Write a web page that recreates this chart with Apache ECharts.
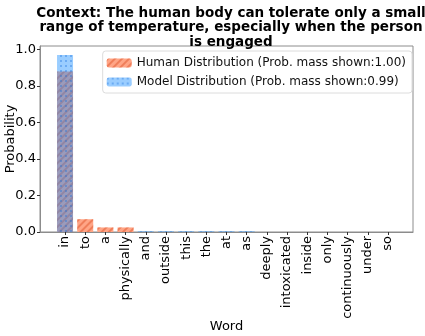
<!DOCTYPE html>
<html>
<head>
<meta charset="utf-8">
<script src="https://cdn.jsdelivr.net/npm/echarts@6/dist/echarts.min.js"></script>
<style>
 html, body { margin: 0; padding: 0; background: #fff; }
 #chart { width: 425px; height: 336px; }
</style>
</head>
<body>
<div id="chart"></div>
<script>
const words = ['in', 'to', 'a', 'physically', 'and', 'outside', 'this', 'the', 'at', 'as',
 'deeply', 'intoxicated', 'inside', 'only', 'continuously', 'under', 'so']
const humanProb = [0.88, 0.07, 0.025, 0.025, 0, 0, 0, 0, 0, 0, 0, 0, 0, 0, 0, 0, 0]
const modelProb = [0.97, 0, 0, 0, 0.004, 0.004, 0.004, 0.004, 0.004, 0.004, 0, 0, 0, 0, 0, 0, 0]
const yTicks = [0, 0.2, 0.4, 0.6, 0.8, 1.0]

const font = 'DejaVu Sans'
const axisColor = '#8c8c8c'
const idx = words.map((_, i) => i)

const chart = echarts.init(document.getElementById('chart'), null, { renderer: 'canvas' })

chart.setOption({
 animation: false,
 backgroundColor: '#fff',
 title: {
 text: 'Context: The human body can tolerate only a small\nrange of temperature, especially when the person\nis engaged',
 left: 226,
 top: 1,
 textAlign: 'center',
 textStyle: { fontFamily: font, fontSize: 13.5, fontWeight: 'bold', color: '#000', lineHeight: 14.5 },
 },
 legend: {
 data: ['Human Distribution (Prob. mass shown:1.00)', 'Model Distribution (Prob. mass shown:0.99)'],
 orient: 'vertical',
 right: 13,
 top: 51,
 itemWidth: 25,
 itemHeight: 9,
 itemGap: 7,
 padding: [6, 6, 5, 4],
 backgroundColor: '#fff',
 borderColor: '#dcdcdc',
 borderWidth: 1,
 borderRadius: 3,
 textStyle: { fontFamily: font, fontSize: 12, color: '#111' },
 },
 grid: {
 left: 40, right: 12, top: 46, bottom: 104,
 outerBoundsMode: 'none',
 containLabel: false,
 show: true, borderColor: axisColor, borderWidth: 1,
 },
 xAxis: {
 type: 'value',
 min: -1.24,
 max: 17.24,
 name: 'Word',
 nameLocation: 'middle',
 nameGap: 88,
 nameMoveOverlap: false,
 nameTextStyle: { fontFamily: font, fontSize: 13, color: '#000' },
 splitLine: { show: false },
 axisLine: { onZero: false, lineStyle: { color: axisColor } },
 axisTick: { customValues: idx, length: 3, lineStyle: { color: '#333' } },
 axisLabel: {
 customValues: idx,
 rotate: 90,
 margin: 4,
 formatter: v => words[Math.round(v)],
 fontFamily: font, fontSize: 13, color: '#000',
 },
 },
 yAxis: {
 type: 'value',
 min: 0,
 max: 1.02,
 name: 'Probability',
 nameLocation: 'middle',
 nameGap: 23,
 nameMoveOverlap: false,
 nameTextStyle: { fontFamily: font, fontSize: 13, color: '#000' },
 splitLine: { show: false },
 axisLine: { show: true, onZero: false, lineStyle: { color: axisColor } },
 axisTick: { show: true, customValues: yTicks, length: 3, lineStyle: { color: '#333' } },
 axisLabel: {
 customValues: yTicks,
 margin: 4,
 formatter: v => v.toFixed(1),
 fontFamily: font, fontSize: 13, color: '#000',
 },
 },
 series: [
 {
 name: 'Human Distribution (Prob. mass shown:1.00)',
 type: 'bar',
 barWidth: 16,
 barGap: '-100%',
 data: humanProb.map((v, i) => [i, v]),
 itemStyle: {
 color: 'rgb(255,165,134)',
 decal: {
 symbol: 'rect',
 dashArrayX: [1, 0],
 dashArrayY: [1.2, 2.5],
 rotation: -Math.PI / 4,
 color: 'rgba(225,95,55,0.55)',
 },
 },
 },
 {
 name: 'Model Distribution (Prob. mass shown:0.99)',
 type: 'bar',
 barWidth: 16,
 barGap: '-100%',
 data: modelProb.map((v, i) => [i, v]),
 itemStyle: {
 color: 'rgba(30,144,255,0.45)',
 decal: {
 symbol: 'rect',
 symbolSize: 1,
 dashArrayX: [[2, 3]],
 dashArrayY: [2, 3],
 color: 'rgba(20,110,220,0.35)',
 },
 },
 },
 ],
})
</script>
</body>
</html>
